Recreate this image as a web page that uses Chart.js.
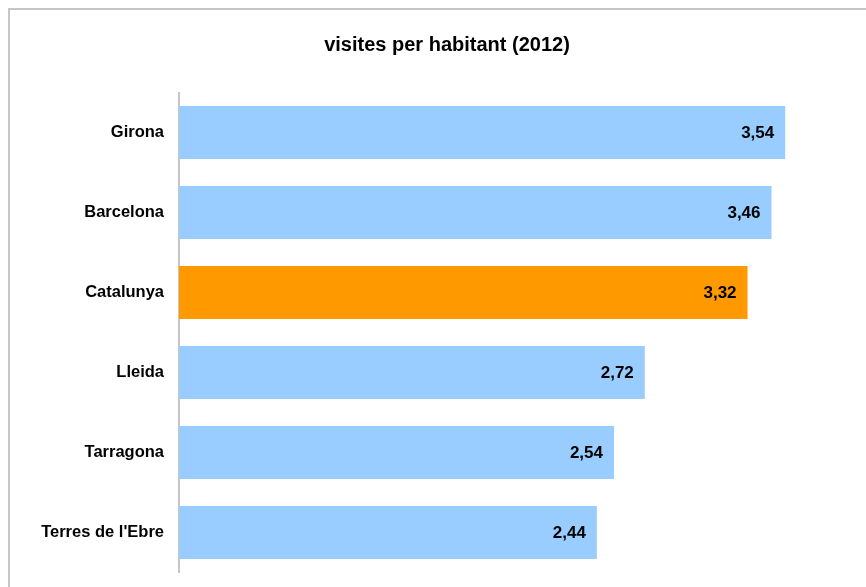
<!DOCTYPE html>
<html>
<head>
<meta charset="utf-8">
<script src="https://cdn.jsdelivr.net/npm/chart.js@4/dist/chart.umd.min.js"></script>
<style>
    html, body { margin: 0; padding: 0; background: #fff; }
    #wrap { position: relative; width: 866px; height: 587px; }
</style>
</head>
<body>
<div id="wrap"><canvas id="visitesChart" width="866" height="587"></canvas></div>
<script>
const labels = ['Girona', 'Barcelona', 'Catalunya', 'Lleida', 'Tarragona', "Terres de l'Ebre"];
const values = [3.54, 3.46, 3.32, 2.72, 2.54, 2.44];
const barColors = ['#99ccff', '#99ccff', '#ff9900', '#99ccff', '#99ccff', '#99ccff'];

// light gray frame, only top and left edges are visible
const framePlugin = {
    id: 'frame',
    beforeDraw(chart) {
        const ctx = chart.ctx;
        ctx.save();
        ctx.strokeStyle = '#c6c6c6';
        ctx.lineWidth = 2;
        ctx.beginPath();
        ctx.moveTo(9, chart.height + 5);
        ctx.lineTo(9, 9);
        ctx.lineTo(chart.width + 5, 9);
        ctx.stroke();
        ctx.restore();
    }
};

// value labels at the inner end of each bar
const valueLabels = {
    id: 'valueLabels',
    afterDatasetsDraw(chart) {
        const ctx = chart.ctx;
        const meta = chart.getDatasetMeta(0);
        ctx.save();
        ctx.font = 'bold 17px "Liberation Sans", Arial, sans-serif';
        ctx.fillStyle = '#000';
        ctx.textAlign = 'right';
        ctx.textBaseline = 'middle';
        meta.data.forEach((bar, i) => {
            const txt = values[i].toFixed(2).replace('.', ',');
            ctx.fillText(txt, bar.x - 11, bar.y + 1);
        });
        ctx.restore();
    }
};

new Chart(document.getElementById('visitesChart').getContext('2d'), {
    type: 'bar',
    data: {
        labels: labels,
        datasets: [{
            data: values,
            backgroundColor: barColors,
            borderWidth: 0,
            barPercentage: 0.66,
            categoryPercentage: 1
        }]
    },
    options: {
        indexAxis: 'y',
        responsive: false,
        animation: false,
        layout: {
            padding: { top: 33, left: 30, right: 2, bottom: 14.5 }
        },
        scales: {
            x: {
                display: false,
                min: 0,
                max: 4
            },
            y: {
                afterFit(scale) {
                    scale.width = 149;
                    scale.paddingTop = 0;
                    scale.paddingBottom = 0;
                },
                grid: {
                    drawOnChartArea: false,
                    drawTicks: false
                },
                border: {
                    color: '#c6c6c6',
                    width: 2
                },
                ticks: {
                    padding: 15,
                    color: '#000',
                    font: { family: '"Liberation Sans", Arial, sans-serif', size: 16.5, weight: 'bold' }
                }
            }
        },
        plugins: {
            legend: { display: false },
            tooltip: { enabled: false },
            title: {
                display: true,
                text: 'visites per habitant (2012)',
                color: '#000',
                font: { family: '"Liberation Sans", Arial, sans-serif', size: 20, weight: 'bold', lineHeight: 1.2 },
                padding: { top: 0, bottom: 35.5 }
            }
        }
    },
    plugins: [framePlugin, valueLabels]
});
</script>
</body>
</html>
